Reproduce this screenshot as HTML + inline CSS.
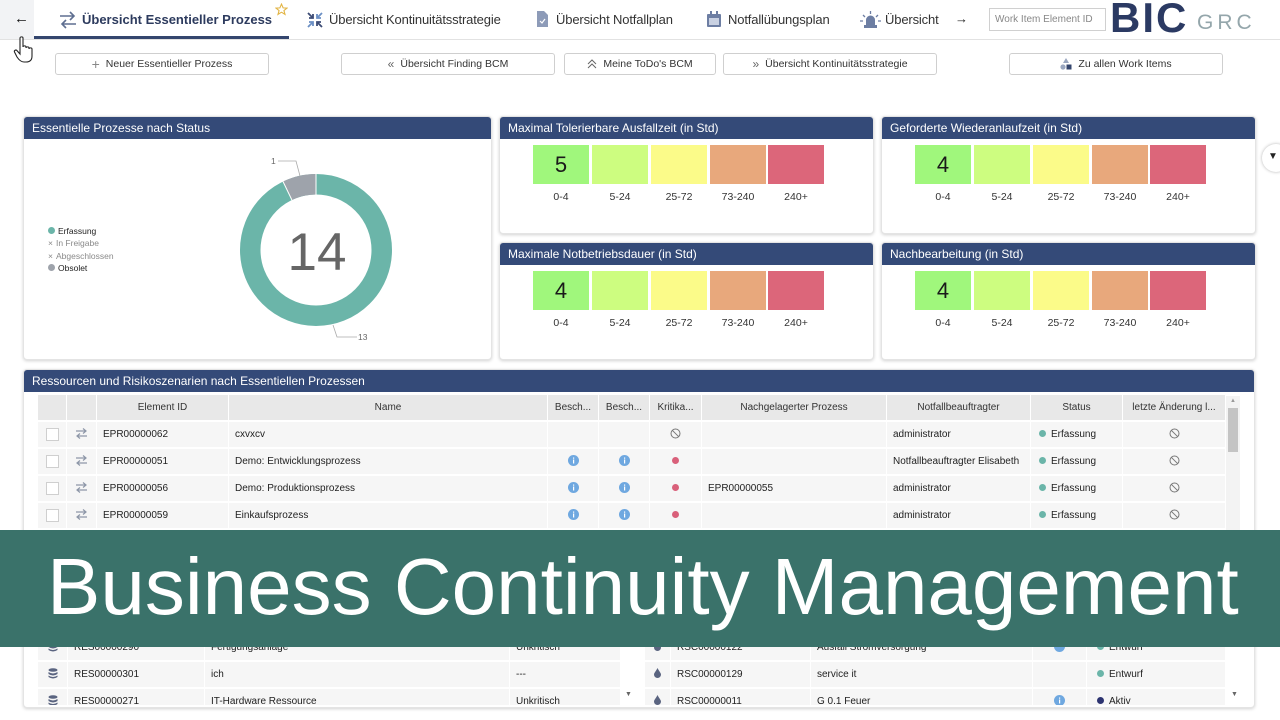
<!DOCTYPE html>
<html><head><meta charset="utf-8">
<style>
*{margin:0;padding:0;box-sizing:border-box}
body{width:1280px;height:720px;overflow:hidden;background:#fff;font-family:"Liberation Sans",Arial,sans-serif;position:relative;color:#333}
.a{position:absolute}
.tab{position:absolute;top:12px;font-size:13px;letter-spacing:-0.15px;color:#333;line-height:16px;white-space:nowrap}
.btn{position:absolute;top:53px;height:22px;border:1px solid #cfcfcf;border-radius:3px;background:#fff;font-size:10.5px;color:#333;display:flex;align-items:center;justify-content:center;gap:6px;white-space:nowrap}
.panel{position:absolute;background:#fff;border-radius:4px;border:1px solid #e4e4e4;box-shadow:0 1px 3px rgba(0,0,0,0.18);overflow:hidden}
.ph{height:22px;background:#344a78;color:#fff;font-size:12px;line-height:23px;padding-left:8px;white-space:nowrap}
.box{position:absolute;top:28px;width:56px;height:39px;text-align:center;font-size:22px;line-height:39px;color:#1a1a1a}
.lbl{position:absolute;top:73px;width:56px;text-align:center;font-size:10.5px;line-height:14px;color:#333}
.g{background:#a0f77c}.l{background:#cdfd80}.y{background:#fbfb89}.o{background:#e8a87c}.r{background:#dc667a}
table{border-collapse:separate;border-spacing:0;table-layout:fixed;font-size:10px;color:#222}
td,th{border-right:1px solid #fff;border-bottom:2px solid #fff;white-space:nowrap;overflow:hidden;vertical-align:middle}
th{background:#e8e8e8;font-weight:normal;height:27px;text-align:center;color:#333}
td{background:#f6f6f6;height:27px;padding-left:6px}
td.c{text-align:center;padding-left:0}
.cb{display:inline-block;width:13px;height:13px;background:#fff;border:1px solid #cfcfcf;vertical-align:middle}
.dot{display:inline-block;width:7px;height:7px;border-radius:50%;vertical-align:middle;margin-right:5px;position:relative;top:-1px}
.leg{position:absolute;left:48px;font-size:8.5px;line-height:12px;white-space:nowrap}
</style></head><body>

<!-- top bar -->
<div class="a" style="left:0;top:0;width:34px;height:39px;background:#f2f3f5"></div>
<div class="a" style="left:14px;top:10px;font-size:15px;color:#111">←</div>
<div class="a" style="left:0;top:39px;width:1280px;height:1px;background:#e2e2e2"></div>
<div class="a" style="left:34px;top:36px;width:255px;height:3px;background:#34466e"></div>

<svg class="a" style="left:58px;top:11px" width="20" height="18" viewBox="0 0 20 18"><path d="M2 5 H16 M12 1 L16 5 L12 9" stroke="#5f6f91" stroke-width="1.6" fill="none"/><path d="M18 13 H4 M8 9 L4 13 L8 17" stroke="#5f6f91" stroke-width="1.6" fill="none"/></svg>
<div class="tab" style="left:82px;font-weight:bold;letter-spacing:0;color:#2d3b5e">Übersicht Essentieller Prozess</div>
<svg class="a" style="left:275px;top:3px" width="13" height="13" viewBox="0 0 24 24"><path d="M12 2 L15 9 L22 9.5 L16.5 14 L18.5 21 L12 17 L5.5 21 L7.5 14 L2 9.5 L9 9 Z" fill="none" stroke="#e2b443" stroke-width="2"/></svg>

<svg class="a" style="left:307px;top:12px" width="16" height="16" viewBox="0 0 16 16"><g stroke-width="1.8" fill="none"><path d="M1 1 L6 6 M6 2 V6 H2" stroke="#3c4b75"/><path d="M15 1 L10 6 M10 2 V6 H14" stroke="#6b8fc4"/><path d="M1 15 L6 10 M2 10 H6 V14" stroke="#6b8fc4"/><path d="M15 15 L10 10 M14 10 H10 V14" stroke="#3c4b75"/></g></svg>
<div class="tab" style="left:329px">Übersicht Kontinuitätsstrategie</div>

<svg class="a" style="left:537px;top:11px" width="11" height="16" viewBox="0 0 11 16"><path d="M0 0 H7 L11 4 V16 H0 Z" fill="#8d9bb8"/><path d="M3 10 L5 12 L8 8" stroke="#fff" stroke-width="1.2" fill="none"/></svg>
<div class="tab" style="left:556px">Übersicht Notfallplan</div>

<svg class="a" style="left:707px;top:11px" width="14" height="16" viewBox="0 0 14 16"><rect x="0" y="3" width="14" height="13" rx="1" fill="#6d7ea3"/><rect x="3" y="0" width="2" height="5" fill="#6d7ea3"/><rect x="9" y="0" width="2" height="5" fill="#6d7ea3"/><rect x="2" y="7" width="10" height="7" fill="#c9d1e2"/></svg>
<div class="tab" style="left:728px">Notfallübungsplan</div>

<svg class="a" style="left:860px;top:11px" width="21" height="17" viewBox="0 0 21 17"><path d="M6 15 V9 A4.5 4.5 0 0 1 15 9 V15 Z" fill="#6d7ea3"/><rect x="4" y="14" width="13" height="3" fill="#6d7ea3"/><path d="M10.5 0 V3 M3 4 L5 6 M18 4 L16 6 M0 10 H3 M18 10 H21" stroke="#6d7ea3" stroke-width="1.3"/></svg>
<div class="tab" style="left:885px">Übersicht</div>
<div class="a" style="left:955px;top:11px;font-size:13px;color:#222">→</div>

<div class="a" style="left:989px;top:8px;width:117px;height:23px;border:1px solid #d0d0d0;font-size:10px;color:#888;line-height:21px;padding-left:5px;white-space:nowrap">Work Item Element ID</div>
<div class="a" style="left:1110px;top:-3px;font-size:42px;font-weight:bold;color:#2b3a63;letter-spacing:2px;line-height:42px">BIC</div>
<div class="a" style="left:1197px;top:12px;font-size:21px;color:#94a6ab;letter-spacing:4px;line-height:21px">GRC</div>

<!-- cursor -->
<svg class="a" style="left:13px;top:36px" width="24" height="28" viewBox="0 0 24 28"><path d="M7 2 C7 0.5 10 0.5 10 2 V11 C10 9.5 13 9.5 13 11 V12 C13 10.5 16 10.5 16 12 V13 C16 11.5 19 11.5 19 13 V20 C19 24 17 26 13 26 H11 C8 26 6 24 4 21 L1.5 16 C0.8 14.5 3 13.3 4 14.6 L7 18 Z" fill="#fff" stroke="#222" stroke-width="1.1"/></svg>

<!-- buttons -->
<div class="btn" style="left:55px;width:214px"><span style="color:#888;font-size:14px;line-height:10px">+</span><span>Neuer Essentieller Prozess</span></div>
<div class="btn" style="left:341px;width:214px"><span style="color:#666;font-size:12px">«</span><span>Übersicht Finding BCM</span></div>
<div class="btn" style="left:564px;width:152px"><svg width="10" height="10" viewBox="0 0 10 10"><path d="M1 5 L5 1 L9 5 M1 9 L5 5 L9 9" stroke="#666" fill="none"/></svg><span>Meine ToDo's BCM</span></div>
<div class="btn" style="left:723px;width:214px"><span style="color:#666;font-size:12px">»</span><span>Übersicht Kontinuitätsstrategie</span></div>
<div class="btn" style="left:1009px;width:214px"><svg width="12" height="12" viewBox="0 0 12 12"><path d="M6 0 L9 5 H3 Z" fill="#9aa7c0"/><circle cx="3" cy="9" r="2.6" fill="#9aa7c0"/><rect x="6.5" y="6.5" width="5" height="5" fill="#34466e"/></svg><span>Zu allen Work Items</span></div>

<!-- panel 1 -->
<div class="panel" style="left:23px;top:116px;width:469px;height:244px"><div class="ph">Essentielle Prozesse nach Status</div></div>
<div class="leg" style="top:225px;color:#222"><span class="dot" style="background:#6bb5a9;margin-right:3px"></span>Erfassung</div>
<div class="leg" style="top:237px;color:#8a8a8a"><span style="margin-right:3px">×</span>In Freigabe</div>
<div class="leg" style="top:250px;color:#8a8a8a"><span style="margin-right:3px">×</span>Abgeschlossen</div>
<div class="leg" style="top:262px;color:#222"><span class="dot" style="background:#9ea3ab;margin-right:3px"></span>Obsolet</div>

<!-- heat panels -->
<div class="panel" style="left:499px;top:116px;width:375px;height:118px"><div class="ph">Maximal Tolerierbare Ausfallzeit (in Std)</div>
<div class="box g" style="left:33px">5</div><div class="box l" style="left:92px"></div><div class="box y" style="left:151px"></div><div class="box o" style="left:210px"></div><div class="box r" style="left:268px"></div>
<div class="lbl" style="left:33px">0-4</div><div class="lbl" style="left:92px">5-24</div><div class="lbl" style="left:151px">25-72</div><div class="lbl" style="left:210px">73-240</div><div class="lbl" style="left:268px">240+</div></div>

<div class="panel" style="left:881px;top:116px;width:375px;height:118px"><div class="ph">Geforderte Wiederanlaufzeit (in Std)</div>
<div class="box g" style="left:33px">4</div><div class="box l" style="left:92px"></div><div class="box y" style="left:151px"></div><div class="box o" style="left:210px"></div><div class="box r" style="left:268px"></div>
<div class="lbl" style="left:33px">0-4</div><div class="lbl" style="left:92px">5-24</div><div class="lbl" style="left:151px">25-72</div><div class="lbl" style="left:210px">73-240</div><div class="lbl" style="left:268px">240+</div></div>

<div class="panel" style="left:499px;top:242px;width:375px;height:118px"><div class="ph">Maximale Notbetriebsdauer (in Std)</div>
<div class="box g" style="left:33px">4</div><div class="box l" style="left:92px"></div><div class="box y" style="left:151px"></div><div class="box o" style="left:210px"></div><div class="box r" style="left:268px"></div>
<div class="lbl" style="left:33px">0-4</div><div class="lbl" style="left:92px">5-24</div><div class="lbl" style="left:151px">25-72</div><div class="lbl" style="left:210px">73-240</div><div class="lbl" style="left:268px">240+</div></div>

<div class="panel" style="left:881px;top:242px;width:375px;height:118px"><div class="ph">Nachbearbeitung (in Std)</div>
<div class="box g" style="left:33px">4</div><div class="box l" style="left:92px"></div><div class="box y" style="left:151px"></div><div class="box o" style="left:210px"></div><div class="box r" style="left:268px"></div>
<div class="lbl" style="left:33px">0-4</div><div class="lbl" style="left:92px">5-24</div><div class="lbl" style="left:151px">25-72</div><div class="lbl" style="left:210px">73-240</div><div class="lbl" style="left:268px">240+</div></div>

<!-- side dropdown -->
<div class="a" style="left:1262px;top:144px;width:28px;height:28px;border-radius:50%;background:#fff;box-shadow:0 0 3px rgba(0,0,0,0.3)"></div>
<div class="a" style="left:1268px;top:151px;font-size:10px;color:#222">▼</div>

<!-- donut -->
<svg class="a" style="left:0;top:0" width="1280" height="400">
<circle cx="316" cy="250" r="65.75" fill="none" stroke="#6bb5a9" stroke-width="20.5"/>
<path d="M287.48 190.75 A65.75 65.75 0 0 1 316 184.25" fill="none" stroke="#9ea3ab" stroke-width="20.5"/>
<line x1="316" y1="173.5" x2="316" y2="195" stroke="#fff" stroke-width="1"/>
<line x1="291.9" y1="200" x2="283" y2="181.5" stroke="#fff" stroke-width="1"/>
<polyline points="278,161 296,161 300,176" fill="none" stroke="#aaa" stroke-width="0.8"/>
<polyline points="333,325 337,337 357,337" fill="none" stroke="#aaa" stroke-width="0.8"/>
<text x="271" y="164" font-size="8.5" fill="#666" font-family="Liberation Sans, sans-serif">1</text>
<text x="358" y="340" font-size="8.5" fill="#666" font-family="Liberation Sans, sans-serif">13</text>
<text x="317" y="270" font-size="53" fill="#666" text-anchor="middle" font-family="Liberation Sans, sans-serif">14</text>
</svg>

<!-- main table panel -->
<div class="panel" style="left:23px;top:369px;width:1232px;height:339px"><div class="ph">Ressourcen und Risikoszenarien nach Essentiellen Prozessen</div></div>

<table class="a" style="left:38px;top:395px;width:1188px">
<colgroup><col style="width:29px"><col style="width:30px"><col style="width:132px"><col style="width:319px"><col style="width:51px"><col style="width:51px"><col style="width:52px"><col style="width:185px"><col style="width:144px"><col style="width:92px"><col style="width:103px"></colgroup>
<tr><th></th><th></th><th>Element ID</th><th>Name</th><th>Besch...</th><th>Besch...</th><th>Kritika...</th><th>Nachgelagerter Prozess</th><th>Notfallbeauftragter</th><th>Status</th><th>letzte Änderung l...</th></tr>
<tr><td class="c"><span class="cb"></span></td><td class="c"><svg width="13" height="11" viewBox="0 0 13 11"><path d="M1 3 H11 M8 0.5 L11 3 L8 5.5 M12 8 H2 M5 5.5 L2 8 L5 10.5" stroke="#8e97a8" stroke-width="1.2" fill="none"/></svg></td><td>EPR00000062</td><td>cxvxcv</td><td></td><td></td><td class="c"><svg width="11" height="11" viewBox="0 0 11 11"><circle cx="5.5" cy="5.5" r="4.5" fill="none" stroke="#777"/><line x1="2.3" y1="2.3" x2="8.7" y2="8.7" stroke="#777"/></svg></td><td></td><td>administrator</td><td style="padding-left:8px"><span class="dot" style="background:#6bb5a9"></span>Erfassung</td><td class="c"><svg width="11" height="11" viewBox="0 0 11 11"><circle cx="5.5" cy="5.5" r="4.5" fill="none" stroke="#777"/><line x1="2.3" y1="2.3" x2="8.7" y2="8.7" stroke="#777"/></svg></td></tr>
<tr><td class="c"><span class="cb"></span></td><td class="c"><svg width="13" height="11" viewBox="0 0 13 11"><path d="M1 3 H11 M8 0.5 L11 3 L8 5.5 M12 8 H2 M5 5.5 L2 8 L5 10.5" stroke="#8e97a8" stroke-width="1.2" fill="none"/></svg></td><td>EPR00000051</td><td>Demo: Entwicklungsprozess</td><td class="c"><svg width="11" height="11"><circle cx="5.5" cy="5.5" r="5.5" fill="#6fa8e0"/><rect x="5" y="4.5" width="1.2" height="4" fill="#fff"/><rect x="5" y="2.5" width="1.2" height="1.2" fill="#fff"/></svg></td><td class="c"><svg width="11" height="11"><circle cx="5.5" cy="5.5" r="5.5" fill="#6fa8e0"/><rect x="5" y="4.5" width="1.2" height="4" fill="#fff"/><rect x="5" y="2.5" width="1.2" height="1.2" fill="#fff"/></svg></td><td class="c"><span class="dot" style="background:#d9607a;margin:0"></span></td><td></td><td>Notfallbeauftragter Elisabeth</td><td style="padding-left:8px"><span class="dot" style="background:#6bb5a9"></span>Erfassung</td><td class="c"><svg width="11" height="11" viewBox="0 0 11 11"><circle cx="5.5" cy="5.5" r="4.5" fill="none" stroke="#777"/><line x1="2.3" y1="2.3" x2="8.7" y2="8.7" stroke="#777"/></svg></td></tr>
<tr><td class="c"><span class="cb"></span></td><td class="c"><svg width="13" height="11" viewBox="0 0 13 11"><path d="M1 3 H11 M8 0.5 L11 3 L8 5.5 M12 8 H2 M5 5.5 L2 8 L5 10.5" stroke="#8e97a8" stroke-width="1.2" fill="none"/></svg></td><td>EPR00000056</td><td>Demo: Produktionsprozess</td><td class="c"><svg width="11" height="11"><circle cx="5.5" cy="5.5" r="5.5" fill="#6fa8e0"/><rect x="5" y="4.5" width="1.2" height="4" fill="#fff"/><rect x="5" y="2.5" width="1.2" height="1.2" fill="#fff"/></svg></td><td class="c"><svg width="11" height="11"><circle cx="5.5" cy="5.5" r="5.5" fill="#6fa8e0"/><rect x="5" y="4.5" width="1.2" height="4" fill="#fff"/><rect x="5" y="2.5" width="1.2" height="1.2" fill="#fff"/></svg></td><td class="c"><span class="dot" style="background:#d9607a;margin:0"></span></td><td>EPR00000055</td><td>administrator</td><td style="padding-left:8px"><span class="dot" style="background:#6bb5a9"></span>Erfassung</td><td class="c"><svg width="11" height="11" viewBox="0 0 11 11"><circle cx="5.5" cy="5.5" r="4.5" fill="none" stroke="#777"/><line x1="2.3" y1="2.3" x2="8.7" y2="8.7" stroke="#777"/></svg></td></tr>
<tr><td class="c"><span class="cb"></span></td><td class="c"><svg width="13" height="11" viewBox="0 0 13 11"><path d="M1 3 H11 M8 0.5 L11 3 L8 5.5 M12 8 H2 M5 5.5 L2 8 L5 10.5" stroke="#8e97a8" stroke-width="1.2" fill="none"/></svg></td><td>EPR00000059</td><td>Einkaufsprozess</td><td class="c"><svg width="11" height="11"><circle cx="5.5" cy="5.5" r="5.5" fill="#6fa8e0"/><rect x="5" y="4.5" width="1.2" height="4" fill="#fff"/><rect x="5" y="2.5" width="1.2" height="1.2" fill="#fff"/></svg></td><td class="c"><svg width="11" height="11"><circle cx="5.5" cy="5.5" r="5.5" fill="#6fa8e0"/><rect x="5" y="4.5" width="1.2" height="4" fill="#fff"/><rect x="5" y="2.5" width="1.2" height="1.2" fill="#fff"/></svg></td><td class="c"><span class="dot" style="background:#d9607a;margin:0"></span></td><td></td><td>administrator</td><td style="padding-left:8px"><span class="dot" style="background:#6bb5a9"></span>Erfassung</td><td class="c"><svg width="11" height="11" viewBox="0 0 11 11"><circle cx="5.5" cy="5.5" r="4.5" fill="none" stroke="#777"/><line x1="2.3" y1="2.3" x2="8.7" y2="8.7" stroke="#777"/></svg></td></tr>
</table>
<div class="a" style="left:1226px;top:396px;width:14px;height:134px;background:#f3f3f3"></div>
<div class="a" style="left:1230px;top:398px;font-size:6px;color:#999">▲</div>
<div class="a" style="left:1228px;top:408px;width:10px;height:44px;background:#c4c4c4"></div>

<!-- bottom tables -->
<div class="a" style="left:38px;top:635px;width:583px;height:70px;overflow:hidden">
<table style="width:583px">
<colgroup><col style="width:30px"><col style="width:137px"><col style="width:305px"><col style="width:111px"></colgroup>
<tr><td class="c"><svg width="10" height="11" viewBox="0 0 10 11"><ellipse cx="5" cy="2" rx="4.5" ry="1.8" fill="#5a6480"/><path d="M0.5 4 Q5 7 9.5 4 V6 Q5 9 0.5 6 Z M0.5 7.5 Q5 10.5 9.5 7.5 V9 Q5 12 0.5 9 Z" fill="#5a6480"/></svg></td><td>RES00000290</td><td>Fertigungsanlage</td><td>Unkritisch</td></tr>
<tr><td class="c"><svg width="10" height="11" viewBox="0 0 10 11"><ellipse cx="5" cy="2" rx="4.5" ry="1.8" fill="#5a6480"/><path d="M0.5 4 Q5 7 9.5 4 V6 Q5 9 0.5 6 Z M0.5 7.5 Q5 10.5 9.5 7.5 V9 Q5 12 0.5 9 Z" fill="#5a6480"/></svg></td><td>RES00000301</td><td>ich</td><td>---</td></tr>
<tr><td class="c"><svg width="10" height="11" viewBox="0 0 10 11"><ellipse cx="5" cy="2" rx="4.5" ry="1.8" fill="#5a6480"/><path d="M0.5 4 Q5 7 9.5 4 V6 Q5 9 0.5 6 Z M0.5 7.5 Q5 10.5 9.5 7.5 V9 Q5 12 0.5 9 Z" fill="#5a6480"/></svg></td><td>RES00000271</td><td>IT-Hardware Ressource</td><td>Unkritisch</td></tr>
</table></div>
<div class="a" style="left:625px;top:691px;font-size:7px;color:#666">▼</div>

<div class="a" style="left:645px;top:635px;width:581px;height:70px;overflow:hidden">
<table style="width:581px">
<colgroup><col style="width:26px"><col style="width:140px"><col style="width:222px"><col style="width:54px"><col style="width:139px"></colgroup>
<tr><td class="c"><svg width="7" height="10" viewBox="0 0 7 10"><path d="M3.5 0 C5 3 7 5 7 6.5 A3.5 3.5 0 0 1 0 6.5 C0 5 2 3 3.5 0 Z" fill="#5a6480"/></svg></td><td>RSC00000122</td><td>Ausfall Stromversorgung</td><td class="c"><svg width="11" height="11"><circle cx="5.5" cy="5.5" r="5.5" fill="#6fa8e0"/></svg></td><td style="padding-left:10px"><span class="dot" style="background:#6bb5a9"></span>Entwurf</td></tr>
<tr><td class="c"><svg width="7" height="10" viewBox="0 0 7 10"><path d="M3.5 0 C5 3 7 5 7 6.5 A3.5 3.5 0 0 1 0 6.5 C0 5 2 3 3.5 0 Z" fill="#5a6480"/></svg></td><td>RSC00000129</td><td>service it</td><td></td><td style="padding-left:10px"><span class="dot" style="background:#6bb5a9"></span>Entwurf</td></tr>
<tr><td class="c"><svg width="7" height="10" viewBox="0 0 7 10"><path d="M3.5 0 C5 3 7 5 7 6.5 A3.5 3.5 0 0 1 0 6.5 C0 5 2 3 3.5 0 Z" fill="#5a6480"/></svg></td><td>RSC00000011</td><td>G 0.1 Feuer</td><td class="c"><svg width="11" height="11"><circle cx="5.5" cy="5.5" r="5.5" fill="#6fa8e0"/><rect x="5" y="4.5" width="1.2" height="4" fill="#fff"/><rect x="5" y="2.5" width="1.2" height="1.2" fill="#fff"/></svg></td><td style="padding-left:10px"><span class="dot" style="background:#2c3370"></span>Aktiv</td></tr>
</table></div>
<div class="a" style="left:1231px;top:691px;font-size:7px;color:#666">▼</div>

<!-- banner -->
<div class="a" style="left:0;top:530px;width:1280px;height:117px;background:#3a726a"></div>
<div class="a" style="left:47px;top:547px;font-size:80px;line-height:80px;color:#fff;white-space:nowrap">Business Continuity Management</div>

</body></html>
